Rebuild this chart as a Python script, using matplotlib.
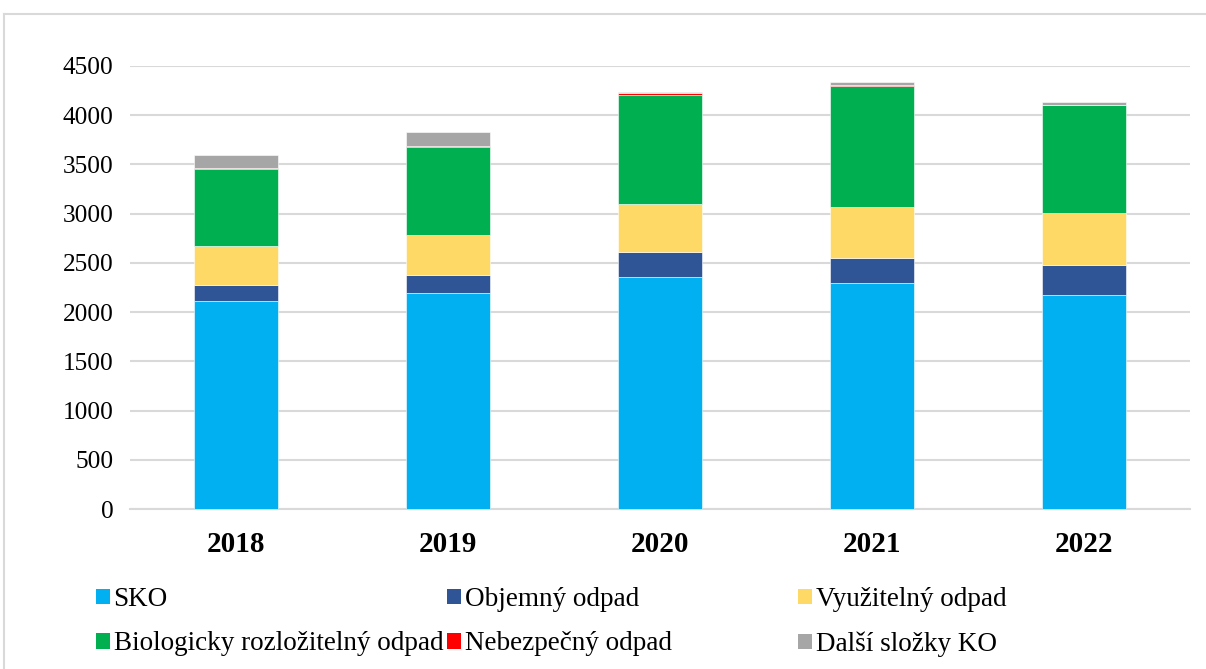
import matplotlib.pyplot as plt
from matplotlib.patches import Patch
from matplotlib.lines import Line2D
import numpy as np

plt.rcParams['font.family'] = ['Liberation Serif', 'DejaVu Serif']

years = ["2018", "2019", "2020", "2021", "2022"]
sko = [2113, 2194, 2361, 2300, 2169]
objemny = [160, 183, 254, 254, 311]
vyuzitelny = [396, 410, 483, 514, 530]
bio = [785, 894, 1111, 1228, 1094]
nebezpecny = [5, 5, 12, 12, 3]
dalsi = [138, 145, 18, 28, 28]

names = ["SKO", "Objemný odpad", "Využitelný odpad",
         "Biologicky rozložitelný odpad", "Nebezpečný odpad", "Další složky KO"]
colors = ["#00b0f0", "#2f5597", "#ffd966", "#00b050", "#ff0000", "#a6a6a6"]
series = [sko, objemny, vyuzitelny, bio, nebezpecny, dalsi]

fig = plt.figure(figsize=(12.06, 6.69), dpi=100)
ax = fig.add_axes([130/1206, 1-509/669, 1060/1206, 443/669])

x = np.arange(len(years))
bottom = np.zeros(len(years))
for vals, c in zip(series, colors):
    ax.bar(x, vals, width=0.4, bottom=bottom, color=c, edgecolor="white", linewidth=0.4, zorder=3)
    bottom += np.array(vals)

ax.set_xlim(-0.5, len(years) - 0.5)
ax.set_ylim(0, 4500)
ax.set_yticks(np.arange(0, 4501, 500))
ax.set_xticks(x, years)
ax.grid(axis="y", color="#d9d9d9", linewidth=1.5, zorder=0)
for s in ["top", "right", "left"]:
    ax.spines[s].set_visible(False)
ax.spines["bottom"].set_color("#d9d9d9")
ax.spines["bottom"].set_linewidth(1.5)
ax.tick_params(axis="y", length=0, labelsize=18.3, pad=12)
ax.tick_params(axis="x", length=0, labelsize=21, pad=16)
for lbl in ax.get_xticklabels():
    lbl.set_fontweight("bold")

# legend in three columns placed separately
handles = [Patch(facecolor=c, edgecolor="none") for c in colors]
col_x = [96/1206, 447/1206, 798/1206]
for i in range(3):
    fig.legend([handles[i], handles[i + 3]], [names[i], names[i + 3]],
               loc="upper left", bbox_to_anchor=(col_x[i], 1-587/669),
               frameon=False, fontsize=19.5, handlelength=0.52, handleheight=0.52,
               handletextpad=0.13, labelspacing=0.72, borderpad=0, borderaxespad=0)

# outer border
fig.add_artist(Line2D([4/1206, 1], [1-14/669, 1-14/669], color="#d9d9d9", linewidth=1.5, transform=fig.transFigure))
fig.add_artist(Line2D([4/1206, 4/1206], [0, 1-14/669], color="#d9d9d9", linewidth=1.5, transform=fig.transFigure))

fig.savefig("out.png", dpi=100)
